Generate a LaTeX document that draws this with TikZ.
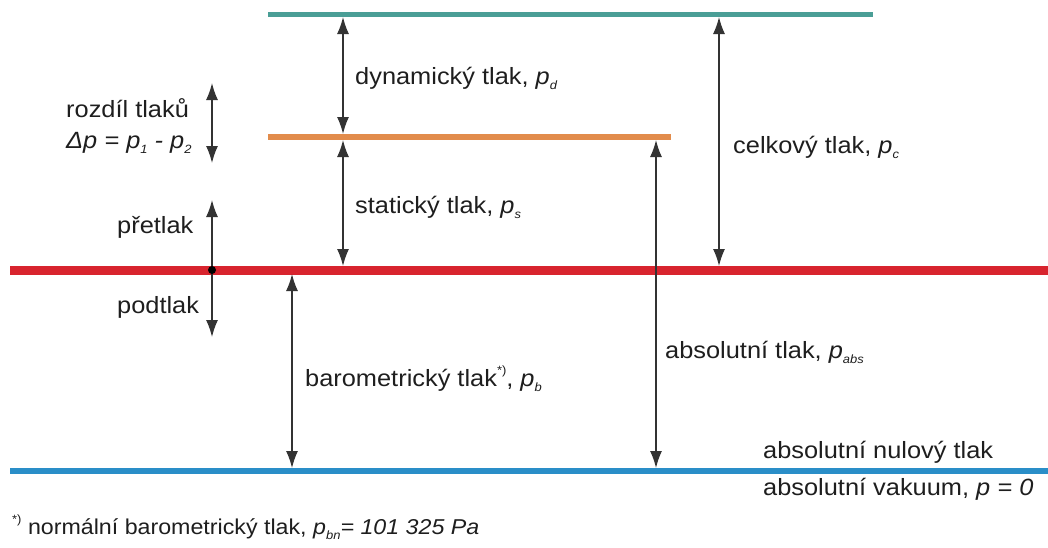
\documentclass[tikz,border=0pt]{standalone}
\usepackage{fontspec}
\setmainfont[FakeStretch=1.08]{Liberation Sans}
\usetikzlibrary{arrows.meta}
\definecolor{cTeal}{RGB}{74,158,150}
\definecolor{cOrange}{RGB}{226,140,76}
\definecolor{cRed}{RGB}{216,36,46}
\definecolor{cBlue}{RGB}{42,142,200}
\definecolor{cText}{RGB}{30,30,30}
\newcommand\psub[1]{\raisebox{-0.45ex}{\fontsize{12}{12}\selectfont\itshape #1}}
\newcommand\psup[1]{\raisebox{0.9ex}{\fontsize{12}{12}\selectfont #1}}
\tikzset{
  level/.style={line width=#1},
  dim/.style={draw=black!80, line width=1.4pt, {Latex[length=17pt,width=12pt]}-{Latex[length=17pt,width=12pt]}},
  lbl/.style={anchor=base west, inner sep=0pt, text=cText, font=\fontsize{23.5}{27}\selectfont},
}
\begin{document}
\begin{tikzpicture}[x=1pt,y=-1pt]
\useasboundingbox (0,0) rectangle (1048,547);
% pressure levels
\coordinate (tealL) at (268,14);   \coordinate (tealR) at (873,14);
\coordinate (oraL) at (268,137);   \coordinate (oraR) at (671,137);
\coordinate (redL) at (10,270);    \coordinate (redR) at (1048,270);
\coordinate (bluL) at (10,471);    \coordinate (bluR) at (1048,471);
\draw[cTeal, level=5pt] (tealL) -- (tealR);
\draw[cOrange, level=6pt] (oraL) -- (oraR);
\draw[cRed, level=9pt] (redL) -- (redR);
\draw[cBlue, level=6pt] (bluL) -- (bluR);
% dimension arrow end points
\coordinate (dT) at (343,17);  \coordinate (dB) at (343,134);
\coordinate (sT) at (343,140); \coordinate (sB) at (343,266);
\coordinate (cT) at (719,17);  \coordinate (cB) at (719,266);
\coordinate (aT) at (656,140); \coordinate (aB) at (656,468);
\coordinate (bT) at (292,274); \coordinate (bB) at (292,468);
\coordinate (rT) at (212,83);  \coordinate (rB) at (212,163);
\coordinate (pT) at (212,200); \coordinate (pB) at (212,337);
\coordinate (pM) at (212,270);
\draw[dim] (dT) -- (dB);
\draw[dim] (sT) -- (sB);
\draw[dim] (cT) -- (cB);
\draw[dim] (aT) -- (aB);
\draw[dim] (bT) -- (bB);
\draw[dim] (rT) -- (rB);
\draw[dim] (pT) -- (pB);
\fill[black] (pM) circle (4pt);
% labels
\node[lbl] (tDyn) at (355,84) {dynamický tlak, \textit{p}\psub{d}};
\node[lbl] (tSta) at (355,213) {statický tlak, \textit{p}\psub{s}};
\node[lbl] (tCel) at (733,153) {celkový tlak, \textit{p}\psub{c}};
\node[lbl] (tAbs) at (665,358) {absolutní tlak, \textit{p}\psub{abs}};
\node[lbl] (tBar) at (305,386) {barometrický tlak\psup{*)}, \textit{p}\psub{b}};
\node[lbl] (tRoz) at (66,117) {rozdíl tlaků};
\node[lbl] (tDp) at (66,148) {\textit{Δp = p}\psub{1}\textit{ - p}\psub{2}};
\node[lbl] (tPre) at (117,233) {přetlak};
\node[lbl] (tPod) at (117,313) {podtlak};
\node[lbl] (tNul) at (763,458) {absolutní nulový tlak};
\node[lbl] (tVak) at (763,495) {absolutní vakuum, \textit{p = 0}};
\node[lbl, font=\fontsize{21.5}{26}\selectfont] (tFoot) at (12,534) {\psup{*)} normální barometrický tlak, \textit{p}\psub{bn}\textit{= 101 325 Pa}};
\end{tikzpicture}
\end{document}
